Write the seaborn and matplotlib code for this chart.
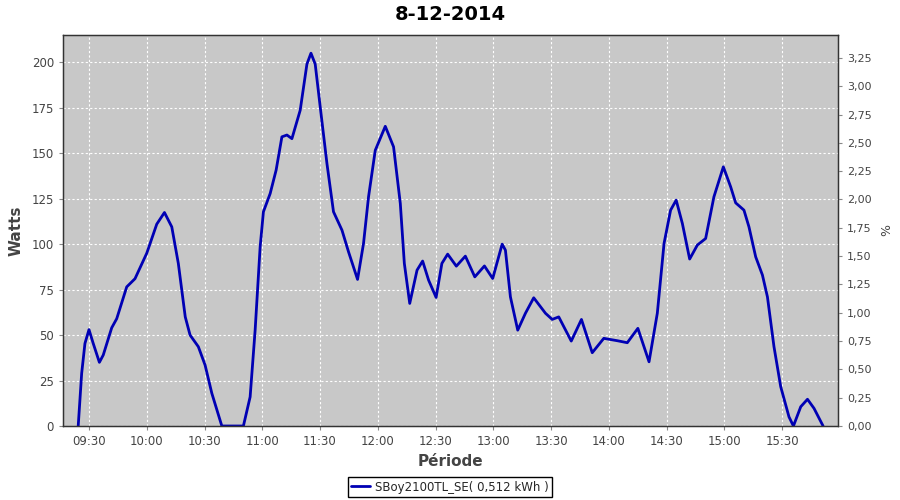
import pandas as pd
import seaborn as sns
import matplotlib.pyplot as plt
import matplotlib.dates as mdates
from matplotlib.ticker import MultipleLocator, FuncFormatter

# readings of the inverter for 8-12-2014 (time of day, watts)
times = ["09:24:24", "09:26:12", "09:27:54", "09:30:00", "09:32:12", "09:35:24", "09:37:24",
         "09:41:48", "09:44:24", "09:49:36",
         "09:53:54", "10:00:00", "10:05:12", "10:09:12", "10:13:00", "10:16:24", "10:20:00",
         "10:22:30", "10:26:48", "10:30:18", "10:33:48", "10:39:00", "10:50:12", "10:53:42",
         "10:56:18", "10:58:54", "11:00:36", "11:04:06", "11:07:12", "11:10:12", "11:12:48",
         "11:15:24", "11:19:42", "11:23:12", "11:25:18", "11:27:30", "11:30:06", "11:33:36",
         "11:37:00", "11:41:24", "11:44:48", "11:49:30", "11:52:36", "11:55:12", "11:58:42",
         "12:03:54", "12:08:12", "12:11:42", "12:13:48", "12:16:36", "12:20:24", "12:23:18",
         "12:26:24", "12:30:18", "12:33:18", "12:36:18", "12:40:48", "12:45:30", "12:50:24",
         "12:55:24", "12:59:42", "13:04:36", "13:06:18", "13:08:54", "13:12:42", "13:16:42",
         "13:21:00", "13:27:06", "13:30:36", "13:34:00", "13:40:30", "13:45:48", "13:51:24",
         "13:57:24", "14:04:24", "14:09:36", "14:15:06", "14:20:54", "14:25:12", "14:28:42",
         "14:32:06", "14:35:00", "14:38:12", "14:42:00", "14:46:00", "14:50:18", "14:54:36",
         "14:59:30", "15:03:18", "15:05:54", "15:10:12", "15:12:48", "15:16:18", "15:19:48",
         "15:22:24", "15:25:48", "15:29:18", "15:33:36", "15:35:54", "15:39:42", "15:43:12",
         "15:46:36", "15:51:18"]
watts = [0, 29, 45.4, 53, 45.4, 35, 39,
         54, 59, 76.5,
         81, 95, 111, 117.4, 109.5, 89.4, 60,
         50, 43.6, 33.5, 18, 0, 0, 16,
         52.7, 98.5, 117.8, 127.8, 140.7, 159, 160,
         158, 173.6, 199, 205, 199, 175.5, 144.3,
         117.8, 107.7, 95.8, 80.6, 100.4, 126, 151.6,
         164.8, 153.5, 122.4, 89.4, 67.4, 85.7, 90.7,
         80.2, 70.7, 89.4, 94.5, 87.9, 93.4, 82,
         88, 81.1, 100, 96.7, 71, 52.7, 62,
         70.5, 62, 58.6, 60, 46.7, 58.6, 40.3,
         48.2, 46.9, 45.8, 53.7, 35.3, 62, 100.4,
         118.7, 124.2, 111.4, 91.8, 99.5, 103.1, 126,
         142.5, 131.5, 122.7, 118.7, 109.5, 93, 83,
         71, 43.6, 21.6, 5, 0, 10.6, 14.7,
         9.7, 0]

title = "8-12-2014"
series_label = "SBoy2100TL_SE( 0,512 kWh )"
pct_ticks = [i * 0.25 for i in range(14)]

sns.set_style("darkgrid", {"axes.facecolor": "#c8c8c8", "axes.edgecolor": "#333333"})
plt.rcParams['font.family'] = ['DejaVu Sans']

df = pd.DataFrame({"time": pd.to_datetime("2014-12-08 " + pd.Series(times)), "watts": watts})

fig = plt.figure(figsize=(9, 5), dpi=100)
ax = fig.add_axes([0.07, 0.148, 0.861, 0.782])
sns.lineplot(data=df, x="time", y="watts", ax=ax, color="#0000b4", lw=2,
             sort=False, estimator=None, label=series_label)
ax.get_legend().remove()

ax.set_xlim(pd.Timestamp("2014-12-08 09:16:30"), pd.Timestamp("2014-12-08 15:59:00"))
ax.set_ylim(0, 215)
ax.yaxis.set_major_locator(MultipleLocator(25))
ax.xaxis.set_major_locator(mdates.MinuteLocator(byminute=[0, 30]))
ax.xaxis.set_major_formatter(mdates.DateFormatter("%H:%M"))
ax.grid(True, color="white", linestyle=(0, (2, 2)), lw=0.8)
for s in ax.spines.values():
    s.set_linewidth(1)
ax.tick_params(axis="both", labelsize=8.5, labelcolor="#444444", color="#888888",
               length=3, width=0.8, bottom=True, left=True)
ax.set_xlabel("Période", fontsize=11, fontweight="bold", color="#444444", labelpad=4)
ax.set_ylabel("Watts", fontsize=11, fontweight="bold", color="#444444", labelpad=6)

ax2 = ax.twinx()
ax2.grid(False)
ax2.set_ylim(0, 3.452)
ax2.set_yticks(pct_ticks)
ax2.yaxis.set_major_formatter(FuncFormatter(lambda v, p: f"{v:.2f}".replace(".", ",")))
ax2.tick_params(axis="y", labelsize=8, labelcolor="#444444", color="#888888",
                length=3, width=0.8, right=True)
ax2.set_ylabel("%", fontsize=9, color="#444444", labelpad=6)

fig.text(0.5, 0.972, title, ha="center", va="center", fontsize=14, fontweight="bold",
         color="black")

handles, labels = ax.get_legend_handles_labels()
fig.legend(handles, labels, loc="center", bbox_to_anchor=(0.5, 0.026), fontsize=8.5,
           frameon=True, fancybox=False, edgecolor="black", facecolor="white", framealpha=1,
           handlelength=1.6, borderpad=0.3, handletextpad=0.4)

fig.savefig("out.png", dpi=100, facecolor="white")
